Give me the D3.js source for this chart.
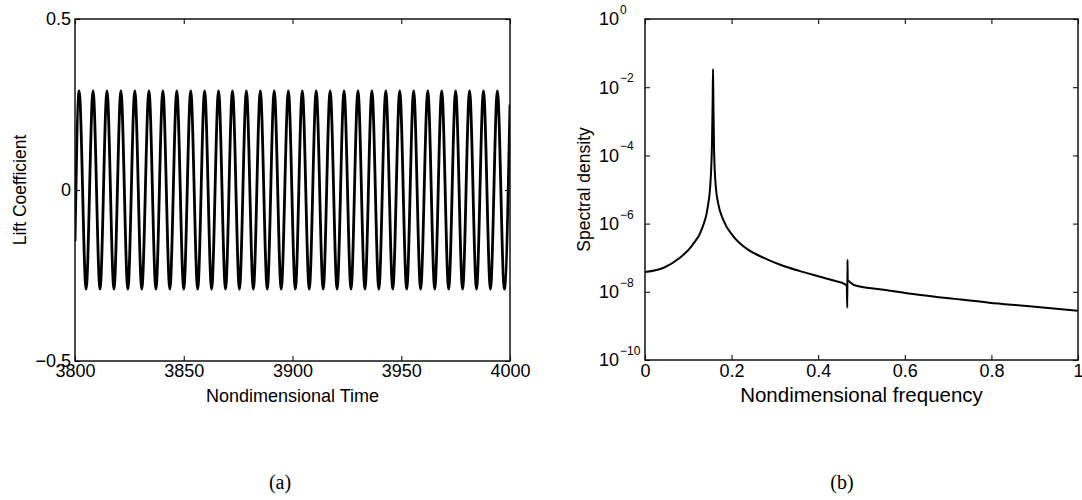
<!DOCTYPE html>
<html><head><meta charset="utf-8">
<script src="https://cdn.jsdelivr.net/npm/d3@7"></script>
<style>
body{margin:0;background:#fff}
svg{display:block}
text{font-family:"Liberation Sans",Arial,Helvetica,sans-serif;fill:#000}
text.cap{font-family:"Liberation Serif","DejaVu Serif",serif}
</style>
</head><body>
<svg id="c" width="1082" height="500"></svg>
<script>
// ---------- data: (a) lift coefficient time history (extrema) ----------
const liftTimes = [3800.0, 3801.9, 3805.1, 3808.3, 3811.5, 3814.7, 3817.9, 3821.1, 3824.3, 3827.5, 3830.7,
  3834.0, 3837.2, 3840.4, 3843.6, 3846.8, 3850.0, 3853.2, 3856.4, 3859.6, 3862.8, 3866.0, 3869.2,
  3872.4, 3875.6, 3878.8, 3882.0, 3885.2, 3888.4, 3891.6, 3894.8, 3898.1, 3901.3, 3904.5, 3907.7,
  3910.9, 3914.1, 3917.3, 3920.5, 3923.7, 3926.9, 3930.1, 3933.3, 3936.5, 3939.7, 3942.9, 3946.1,
  3949.3, 3952.5, 3955.7, 3958.9, 3962.2, 3965.4, 3968.6, 3971.8, 3975.0, 3978.2, 3981.4, 3984.6,
  3987.8, 3991.0, 3994.2, 3997.4, 4000.0];
const liftValues = [-0.15, 0.29, -0.29, 0.29, -0.29, 0.29, -0.29, 0.29, -0.29, 0.29, -0.29,
  0.29, -0.29, 0.29, -0.29, 0.29, -0.29, 0.29, -0.29, 0.29, -0.29, 0.29, -0.29,
  0.29, -0.29, 0.29, -0.29, 0.29, -0.29, 0.29, -0.29, 0.29, -0.29, 0.29, -0.29,
  0.29, -0.29, 0.29, -0.29, 0.29, -0.29, 0.29, -0.29, 0.29, -0.29, 0.29, -0.29,
  0.29, -0.29, 0.29, -0.29, 0.29, -0.29, 0.29, -0.29, 0.29, -0.29, 0.29, -0.29,
  0.29, -0.29, 0.29, -0.29, 0.25];
const timeTicks = [3800, 3850, 3900, 3950, 4000];
const liftTicks = [-0.5, 0, 0.5];
const liftTickLabels = ["\u22120.5", "0", "0.5"];

// ---------- data: (b) spectral density ----------
const freq = [0, 0.0455, 0.0774, 0.109, 0.133, 0.145, 0.1515, 0.1547, 0.1563, 0.1571,
  0.1579, 0.1595, 0.1635, 0.169, 0.181, 0.205, 0.237, 0.277, 0.317, 0.356,
  0.396, 0.436, 0.4625, 0.466, 0.4672, 0.4676, 0.4683, 0.472, 0.484, 0.556,
  0.636, 0.715, 0.795, 0.875, 1.0];
const density = [3.8e-8, 5.25e-8, 9.3e-8, 2.3e-7, 7.9e-7, 3.1e-6, 1.86e-5, 2.24e-4, 4.3e-3, 3.4e-2,
  4.3e-3, 1.45e-4, 1.2e-5, 3.9e-6, 1.26e-6, 4.1e-7, 1.75e-7, 9.6e-8, 5.9e-8, 4.1e-8,
  2.95e-8, 2.14e-8, 1.66e-8, 1.45e-8, 3.4e-9, 8.7e-8, 2.2e-8, 2.0e-8, 1.55e-8, 1.13e-8,
  8.1e-9, 6.2e-9, 4.8e-9, 3.9e-9, 2.8e-9];
const freqTicks = [0, 0.2, 0.4, 0.6, 0.8, 1];
const freqTickLabels = ["0", "0.2", "0.4", "0.6", "0.8", "1"];
const densityTicks = [1, 1e-2, 1e-4, 1e-6, 1e-8, 1e-10];
const densityExponents = ["0", "\u22122", "\u22124", "\u22126", "\u22128", "\u221210"];

const svg = d3.select("#c");
const TICK = 5, TICKFS = 18;

function box(x0, x1, y0, y1) {
  svg.append("rect").attr("x", x0).attr("y", y0).attr("width", x1 - x0).attr("height", y1 - y0)
    .attr("fill", "none").attr("stroke", "#111").attr("stroke-width", 1.5);
}
function styleAxis(g) {
  g.select(".domain").remove();
  g.selectAll(".tick line").attr("stroke", "#111").attr("stroke-width", 1.1);
  g.selectAll(".tick text").style("font-size", TICKFS + "px").style("font-family", "Liberation Sans, Arial, sans-serif").attr("fill", "#000");
}

// ================= panel (a) =================
const A = {x0: 75, x1: 510, y0: 19, y1: 361};
const xA = d3.scaleLinear().domain([3800, 4000]).range([A.x0, A.x1]);
const yA = d3.scaleLinear().domain([-0.5, 0.5]).range([A.y1, A.y0]);

svg.append("g").attr("transform", `translate(0,${A.y1})`)
  .call(d3.axisBottom(xA).tickValues(timeTicks).tickSize(-TICK).tickPadding(3).tickFormat(d3.format("d")))
  .call(styleAxis);
svg.append("g").attr("transform", `translate(0,${A.y0})`)
  .call(d3.axisTop(xA).tickValues(timeTicks).tickSize(-TICK).tickFormat(""))
  .call(styleAxis);
svg.append("g").attr("transform", `translate(${A.x0},0)`)
  .call(d3.axisLeft(yA).tickValues(liftTicks).tickSize(-TICK).tickPadding(4).tickFormat((d, i) => liftTickLabels[i]))
  .call(styleAxis);
svg.append("g").attr("transform", `translate(${A.x1},0)`)
  .call(d3.axisRight(yA).tickValues(liftTicks).tickSize(-TICK).tickFormat(""))
  .call(styleAxis);

svg.append("defs").append("clipPath").attr("id", "clipA").append("rect")
  .attr("x", A.x0).attr("y", A.y0).attr("width", A.x1 - A.x0).attr("height", A.y1 - A.y0);

const liftData = liftTimes.map((t, i) => [t, liftValues[i]]);
svg.append("path").datum(liftData)
  .attr("clip-path", "url(#clipA)")
  .attr("fill", "none").attr("stroke", "#000").attr("stroke-width", 2.8)
  .attr("d", d3.line().x(d => xA(d[0])).y(d => yA(d[1])).curve(d3.curveMonotoneX));

box(A.x0, A.x1, A.y0, A.y1);

svg.append("text").attr("x", (A.x0 + A.x1) / 2).attr("y", 402).attr("text-anchor", "middle")
  .style("font-size", "18px").text("Nondimensional Time");
svg.append("text").attr("transform", `translate(26,${(A.y0 + A.y1) / 2}) rotate(-90)`)
  .attr("text-anchor", "middle").style("font-size", "17.5px").text("Lift Coefficient");

// ================= panel (b) =================
const B = {x0: 645, x1: 1078, y0: 19, y1: 360};
const xB = d3.scaleLinear().domain([0, 1]).range([B.x0, B.x1]);
const yB = d3.scaleLog().domain([1e-10, 1]).range([B.y1, B.y0]);

svg.append("g").attr("transform", `translate(0,${B.y1})`)
  .call(d3.axisBottom(xB).tickValues(freqTicks).tickSize(-TICK).tickPadding(4).tickFormat((d, i) => freqTickLabels[i]))
  .call(styleAxis);
svg.append("g").attr("transform", `translate(0,${B.y0})`)
  .call(d3.axisTop(xB).tickValues(freqTicks).tickSize(-TICK).tickFormat(""))
  .call(styleAxis);
svg.append("g").attr("transform", `translate(${B.x0},0)`)
  .call(d3.axisLeft(yB).tickValues(densityTicks).tickSize(-TICK).tickFormat(""))
  .call(styleAxis);
svg.append("g").attr("transform", `translate(${B.x1},0)`)
  .call(d3.axisRight(yB).tickValues(densityTicks).tickSize(-TICK).tickFormat(""))
  .call(styleAxis);

// log tick labels: "10" with superscript exponent
const lab = svg.append("g");
densityTicks.forEach((v, i) => {
  lab.append("text").attr("x", B.x0 - 26).attr("y", yB(v)).attr("dy", "0.36em")
    .attr("text-anchor", "end").style("font-size", TICKFS + "px").text("10");
  lab.append("text").attr("x", B.x0 - 25).attr("y", yB(v) - 5)
    .attr("text-anchor", "start").style("font-size", "12px").text(densityExponents[i]);
});

svg.append("defs").append("clipPath").attr("id", "clipB").append("rect")
  .attr("x", B.x0).attr("y", B.y0).attr("width", B.x1 - B.x0).attr("height", B.y1 - B.y0);

const specData = freq.map((f, i) => [f, density[i]]);
svg.append("path").datum(specData)
  .attr("clip-path", "url(#clipB)")
  .attr("fill", "none").attr("stroke", "#000").attr("stroke-width", 2)
  .attr("stroke-linejoin", "round")
  .attr("d", d3.line().x(d => xB(d[0])).y(d => yB(d[1])).curve(d3.curveMonotoneX));

box(B.x0, B.x1, B.y0, B.y1);

svg.append("text").attr("x", (B.x0 + B.x1) / 2).attr("y", 402).attr("text-anchor", "middle")
  .style("font-size", "20.5px").text("Nondimensional frequency");
svg.append("text").attr("transform", `translate(590,${(B.y0 + B.y1) / 2}) rotate(-90)`)
  .attr("text-anchor", "middle").style("font-size", "17.5px").text("Spectral density");

// captions (serif, like the LaTeX subfigure labels)
svg.append("text").attr("class", "cap").attr("x", 280).attr("y", 489).attr("text-anchor", "middle")
  .style("font-size", "20px").text("(a)");
svg.append("text").attr("class", "cap").attr("x", 842).attr("y", 489).attr("text-anchor", "middle")
  .style("font-size", "20px").text("(b)");
</script>
</body></html>
